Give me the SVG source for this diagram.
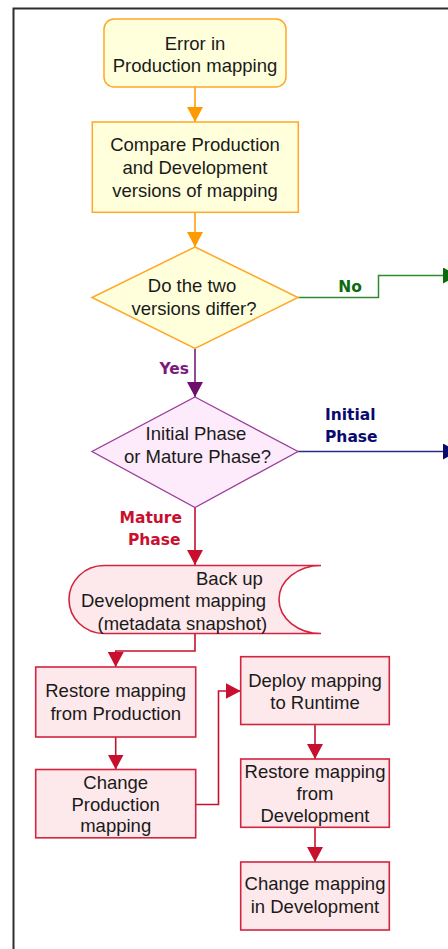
<svg xmlns="http://www.w3.org/2000/svg" width="448" height="949" viewBox="0 0 448 949">
  <defs>
    <marker id="ah-orange" viewBox="0 0 15 16" refX="15" refY="8" markerWidth="15" markerHeight="16" markerUnits="userSpaceOnUse" orient="auto">
      <path d="M0,0 L15,8 L0,16 z" fill="#ff9900"/>
    </marker>
    <marker id="ah-purple" viewBox="0 0 15 16" refX="15" refY="8" markerWidth="15" markerHeight="16" markerUnits="userSpaceOnUse" orient="auto">
      <path d="M0,0 L15,8 L0,16 z" fill="#6e0f6e"/>
    </marker>
    <marker id="ah-red" viewBox="0 0 15 16" refX="15" refY="8" markerWidth="15" markerHeight="16" markerUnits="userSpaceOnUse" orient="auto">
      <path d="M0,0 L15,8 L0,16 z" fill="#c8102e"/>
    </marker>
    <marker id="ah-green" viewBox="0 0 15 16" refX="15" refY="8" markerWidth="15" markerHeight="16" markerUnits="userSpaceOnUse" orient="auto">
      <path d="M0,0 L15,8 L0,16 z" fill="#0b6b0b"/>
    </marker>
    <marker id="ah-navy" viewBox="0 0 15 16" refX="15" refY="8" markerWidth="15" markerHeight="16" markerUnits="userSpaceOnUse" orient="auto">
      <path d="M0,0 L15,8 L0,16 z" fill="#0a0a6e"/>
    </marker>
  </defs>
  <style>
    .txt { font-family: "Liberation Sans", Arial, sans-serif; font-size: 18.5px; fill: #1a1a1a; text-anchor: middle; }
    .left { text-anchor: start; }
    .lbl { font-family: "DejaVu Sans", Verdana, sans-serif; font-size: 15.5px; font-weight: bold; }
    .yellow { fill: #ffffdc; stroke: #ffa726; stroke-width: 1.5; }
    .pink { fill: #fdeafb; stroke: #9a3d9a; stroke-width: 1.3; }
    .red { fill: #fde8eb; stroke: #d3243f; stroke-width: 1.6; }
    .c-orange { fill: none; stroke: #ff9900; stroke-width: 1.5; marker-end: url(#ah-orange); }
    .c-purple { fill: none; stroke: #6e0f6e; stroke-width: 1.5; marker-end: url(#ah-purple); }
    .c-red { fill: none; stroke: #c8102e; stroke-width: 1.6; marker-end: url(#ah-red); }
    .c-green { fill: none; stroke: #2f8a2f; stroke-width: 1.5; marker-end: url(#ah-green); }
    .c-navy { fill: none; stroke: #2a2a80; stroke-width: 1.5; marker-end: url(#ah-navy); }
  </style>

  <rect width="448" height="949" fill="#ffffff"/>

  <!-- page frame -->
  <path d="M13.5,949 L13.5,8.5 L448,8.5" fill="none" stroke="#2e2e2e" stroke-width="2"/>

  <!-- connectors -->
  <g id="connectors">
    <path class="c-orange" d="M195,87 L195,122"/>
    <path class="c-orange" d="M195,212 L195,247"/>
    <path class="c-green" d="M298,297.5 L378.5,297.5 L378.5,275.5 L458,275.5"/>
    <path class="c-purple" d="M195,348.5 L195,397"/>
    <path class="c-navy" d="M298,451.5 L458,451.5"/>
    <path class="c-red" d="M195,507.5 L195,565"/>
    <path class="c-red" d="M195,633 L195,651 L115.7,651 L115.7,667"/>
    <path class="c-red" d="M115.7,737 L115.7,769.5"/>
    <path class="c-red" d="M195.7,804.5 L218.5,804.5 L218.5,691 L240.7,691"/>
    <path class="c-red" d="M315,724.5 L315,759"/>
    <path class="c-red" d="M315,827.5 L315,862"/>
  </g>

  <!-- connector labels -->
  <g id="labels">
    <text class="lbl" x="350" y="292" fill="#0b6b0b" text-anchor="middle">No</text>
    <text class="lbl" x="189" y="373.5" fill="#7b1a7b" text-anchor="end">Yes</text>
    <text class="lbl" x="325" y="420" fill="#0a0a6e">Initial</text>
    <text class="lbl" x="325" y="442" fill="#0a0a6e">Phase</text>
    <text class="lbl" x="182" y="522.5" fill="#c8102e" text-anchor="end">Mature</text>
    <text class="lbl" x="180.5" y="544.5" fill="#c8102e" text-anchor="end">Phase</text>
  </g>

  <g id="n-error">
    <rect class="yellow" x="104" y="19" width="182" height="68" rx="10" ry="10"/>
    <text class="txt" x="195" y="49.5">Error in</text>
    <text class="txt" x="195" y="72">Production mapping</text>
  </g>

  <g id="n-compare">
    <rect class="yellow" x="92.3" y="122" width="206" height="90.3"/>
    <text class="txt" x="195" y="151">Compare Production</text>
    <text class="txt" x="195" y="174">and Development</text>
    <text class="txt" x="195" y="197">versions of mapping</text>
  </g>

  <g id="n-differ">
    <polygon class="yellow" points="195,247 298,297.5 195,348.5 92,297.5"/>
    <text class="txt" x="192" y="292">Do the two</text>
    <text class="txt" x="194" y="314.5">versions differ?</text>
  </g>

  <g id="n-phase">
    <polygon class="pink" points="195,397 298,451.5 195,507.5 92,451.5"/>
    <text class="txt" x="196" y="439.5">Initial Phase</text>
    <text class="txt" x="197.5" y="462.5">or Mature Phase?</text>
  </g>

  <g id="n-backup">
    <path class="red" d="M104,565.5 L321,565.5 A42,34 0 0 0 321,633.5 L104,633.5 A35,34 0 0 1 104,565.5 z"/>
    <text class="txt left" x="196" y="584.5">Back up</text>
    <text class="txt left" x="81" y="607">Development mapping</text>
    <text class="txt left" x="97.5" y="629.5">(metadata snapshot)</text>
  </g>

  <g id="n-restore-prod">
    <rect class="red" x="35.7" y="667" width="160" height="70"/>
    <text class="txt" x="115.7" y="697">Restore mapping</text>
    <text class="txt" x="115.7" y="719.5">from Production</text>
  </g>

  <g id="n-change-prod">
    <rect class="red" x="35.7" y="769.5" width="160" height="68.3"/>
    <text class="txt" x="115.7" y="788.5">Change</text>
    <text class="txt" x="115.7" y="811">Production</text>
    <text class="txt" x="115.7" y="832">mapping</text>
  </g>

  <g id="n-deploy">
    <rect class="red" x="240.7" y="656.7" width="148.6" height="67.8"/>
    <text class="txt" x="315" y="687">Deploy mapping</text>
    <text class="txt" x="315" y="709">to Runtime</text>
  </g>

  <g id="n-restore-dev">
    <rect class="red" x="240.7" y="759" width="148.6" height="68.3"/>
    <text class="txt" x="315" y="777.5">Restore mapping</text>
    <text class="txt" x="315" y="799.5">from</text>
    <text class="txt" x="315" y="822">Development</text>
  </g>

  <g id="n-change-dev">
    <rect class="red" x="240.7" y="862" width="148.6" height="68"/>
    <text class="txt" x="315" y="890">Change mapping</text>
    <text class="txt" x="315" y="912.5">in Development</text>
  </g>
</svg>
